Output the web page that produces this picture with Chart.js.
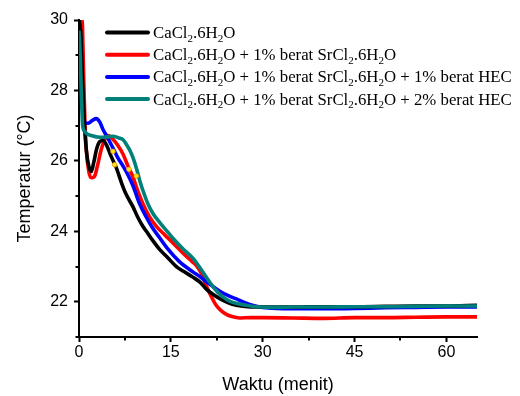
<!DOCTYPE html>
<html>
<head>
<meta charset="utf-8">
<script src="https://cdn.jsdelivr.net/npm/chart.js@4.4.1/dist/chart.umd.min.js"></script>
<style>
  html, body { margin: 0; padding: 0; background: #fff; }
  #temp { display: block; }
</style>
</head>
<body>
<canvas id="temp" width="520" height="396"></canvas>
<script>
// series labels, "_2" = subscript 2
var seriesLabels = [
    "CaCl_2.6H_2O",
    "CaCl_2.6H_2O + 1% berat SrCl_2.6H_2O",
    "CaCl_2.6H_2O + 1% berat SrCl_2.6H_2O + 1% berat HEC",
    "CaCl_2.6H_2O + 1% berat SrCl_2.6H_2O + 2% berat HEC"
];
var seriesColors = ["#000000", "#ff0000", "#0000ff", "#00807a"];

var xTicks = [0, 15, 30, 45, 60];
var yTicks = [22, 24, 26, 28, 30];

// waktu (menit) / temperatur (C)
var timeA = [0, 0.3, 0.6, 0.9, 1.2, 1.6, 2.0, 2.4, 2.9, 3.4, 3.9, 4.5, 5.2, 6.1, 7.0, 7.7, 8.8, 9.6, 10.4, 11.2, 12.0, 13.2, 14.5, 15.9, 17.2, 18.6, 19.8, 20.8, 21.8, 23.0, 24.3, 25.7, 27.5, 30, 35, 40, 45, 50, 55, 60, 65];
var tempA = [30.0, 29.6, 28.2, 27.0, 26.3, 25.85, 25.7, 25.95, 26.35, 26.55, 26.58, 26.45, 26.15, 25.8, 25.35, 25.05, 24.7, 24.4, 24.15, 23.95, 23.75, 23.48, 23.25, 23.0, 22.85, 22.7, 22.55, 22.36, 22.22, 22.09, 21.98, 21.9, 21.86, 21.85, 21.85, 21.86, 21.86, 21.87, 21.88, 21.88, 21.9];

var timeB = [0, 0.5, 0.75, 0.95, 1.2, 1.6, 2.0, 2.5, 3.0, 3.6, 4.2, 4.8, 5.5, 6.3, 7.2, 8.0, 8.8, 9.6, 10.4, 11.5, 12.6, 14.0, 15.3, 17.0, 18.4, 19.2, 20.0, 20.8, 21.6, 22.4, 23.2, 24.0, 25.0, 26.2, 28, 30, 35, 40, 45, 50, 55, 60, 65];
var tempB = [30.0, 30.0, 28.5, 27.2, 26.3, 25.7, 25.52, 25.55, 25.85, 26.3, 26.6, 26.72, 26.62, 26.45, 26.19, 25.85, 25.55, 25.15, 24.8, 24.42, 24.15, 23.9, 23.68, 23.38, 23.15, 23.02, 22.8, 22.45, 22.15, 21.9, 21.75, 21.65, 21.58, 21.54, 21.55, 21.55, 21.54, 21.53, 21.55, 21.55, 21.56, 21.57, 21.57];

var timeC = [0, 0.25, 0.5, 0.75, 1.0, 1.5, 2.2, 2.8, 3.4, 3.9, 4.7, 5.5, 6.3, 7.2, 8.0, 8.8, 9.9, 11.0, 12.0, 13.2, 14.5, 16.4, 18.6, 19.7, 20.8, 22.0, 23.0, 24.3, 25.7, 27.0, 28.3, 30, 35, 40, 45, 50, 55, 60, 65];
var tempC = [30.0, 29.5, 28.2, 27.3, 27.08, 27.07, 27.15, 27.2, 27.1, 26.9, 26.65, 26.38, 26.1, 25.85, 25.6, 25.3, 24.78, 24.4, 24.1, 23.81, 23.5, 23.14, 22.85, 22.72, 22.57, 22.42, 22.3, 22.18, 22.08, 21.98, 21.9, 21.84, 21.8, 21.8, 21.81, 21.83, 21.84, 21.85, 21.85];

var timeD = [0, 0.2, 0.4, 0.6, 0.9, 1.2, 2.0, 3.4, 4.5, 5.5, 6.5, 7.2, 7.7, 8.3, 8.8, 9.4, 9.9, 10.4, 11.3, 12.1, 13.2, 14.3, 15.3, 17.0, 18.6, 19.7, 21.3, 22.5, 23.5, 24.6, 25.8, 27.3, 29, 32, 35, 40, 45, 50, 55, 60, 65];
var tempD = [29.7, 29.0, 27.8, 27.0, 26.85, 26.78, 26.72, 26.67, 26.68, 26.7, 26.65, 26.6, 26.48, 26.3, 26.1, 25.78, 25.45, 25.18, 24.76, 24.5, 24.25, 24.02, 23.81, 23.5, 23.24, 22.98, 22.57, 22.3, 22.14, 22.02, 21.95, 21.9, 21.86, 21.84, 21.85, 21.85, 21.86, 21.86, 21.87, 21.88, 21.88];

// small yellow markers on the curves
var markTime = [5.55, 5.82, 8.16, 9.36];
var markTemp = [26.27, 25.89, 25.76, 25.57];

var toPoints = function (xs, ys) {
    var pts = [];
    for (var i = 0; i < xs.length; i++) {
        pts.push({ x: xs[i], y: ys[i] });
    }
    return pts;
};

var lineSet = function (idx, xs, ys, order) {
    return {
        label: seriesLabels[idx],
        data: toPoints(xs, ys),
        borderColor: seriesColors[idx],
        backgroundColor: seriesColors[idx],
        borderWidth: 3.6,
        pointRadius: 0,
        fill: false,
        cubicInterpolationMode: 'monotone',
        order: order
    };
};

// draws subscript text, "_x" marks subscript char
var drawRich = function (ctx, str, x, y, size) {
    var parts = str.split('_');
    ctx.textBaseline = 'alphabetic';
    ctx.textAlign = 'left';
    for (var i = 0; i < parts.length; i++) {
        var p = parts[i];
        if (i > 0) {
            ctx.font = Math.round(size * 0.68) + 'px "Liberation Serif", "Times New Roman", serif';
            ctx.fillText(p.charAt(0), x, y + size * 0.22);
            x += ctx.measureText(p.charAt(0)).width;
            p = p.substring(1);
        }
        ctx.font = size + 'px "Liberation Serif", "Times New Roman", serif';
        ctx.fillText(p, x, y);
        x += ctx.measureText(p).width;
    }
};

var legendPlugin = {
    id: 'innerLegend',
    afterDatasetsDraw: function (chart) {
        var ctx = chart.ctx;
        ctx.save();
        for (var i = 0; i < seriesLabels.length; i++) {
            var yy = 32.5 + i * 22.2;
            ctx.strokeStyle = seriesColors[i];
            ctx.lineWidth = 4;
            ctx.lineCap = 'round';
            ctx.beginPath();
            ctx.moveTo(107, yy);
            ctx.lineTo(148, yy);
            ctx.stroke();
            ctx.fillStyle = '#000';
            drawRich(ctx, seriesLabels[i], 153, yy + 5.5, 16.8);
        }
        ctx.restore();
    }
};

// minor ticks between the major ones
var minorTicks = {
    id: 'minorTicks',
    afterDraw: function (chart) {
        var ctx = chart.ctx;
        var xs = chart.scales.x, ys = chart.scales.y;
        ctx.save();
        ctx.strokeStyle = '#000';
        ctx.lineWidth = 2;
        ctx.beginPath();
        for (var i = 0; i < xTicks.length; i++) {
            var v = xTicks[i] + 7.5;
            if (v > xs.max) continue;
            var px = Math.round(xs.getPixelForValue(v));
            ctx.moveTo(px, xs.top);
            ctx.lineTo(px, xs.top + 3.5);
        }
        for (var j = 0; j < yTicks.length; j++) {
            var w = yTicks[j] - 1;
            if (w < ys.min) continue;
            var py = Math.round(ys.getPixelForValue(w));
            ctx.moveTo(ys.right, py);
            ctx.lineTo(ys.right - 3.5, py);
        }
        ctx.stroke();
        ctx.restore();
    }
};

var tickFont = { family: '"Liberation Sans", Arial, sans-serif', size: 16 };
var titleFont = { family: '"Liberation Sans", Arial, sans-serif', size: 18 };

var ctxl = document.getElementById('temp');
var myLineChart = new Chart(ctxl, {
    type: 'line',
    data: {
        datasets: [
            {
                label: 'marks',
                data: toPoints(markTime, markTemp),
                showLine: false,
                pointRadius: 2.3,
                pointBackgroundColor: '#ffe21a',
                pointBorderColor: '#f4a300',
                pointBorderWidth: 0.8,
                order: 0
            },
            lineSet(0, timeA, tempA, 2),
            lineSet(1, timeB, tempB, 4),
            lineSet(2, timeC, tempC, 3),
            lineSet(3, timeD, tempD, 1)
        ]
    },
    options: {
        responsive: false,
        animation: false,
        devicePixelRatio: 1,
        layout: { padding: { left: 0, right: 43, top: 20, bottom: 0 } },
        plugins: { legend: { display: false }, tooltip: { enabled: false } },
        scales: {
            x: {
                type: 'linear',
                min: 0,
                max: 65,
                afterFit: function (s) { s.height = 59; },
                ticks: {
                    stepSize: 15,
                    includeBounds: false,
                    color: '#000',
                    font: tickFont,
                    padding: 1,
                    maxRotation: 0
                },
                grid: { drawOnChartArea: false, drawTicks: true, tickLength: 5, tickColor: '#000', tickWidth: 2 },
                border: { display: true, color: '#000', width: 2 },
                title: { display: true, text: 'Waktu (menit)', color: '#000', font: titleFont, padding: { top: 0, bottom: 0 } }
            },
            y: {
                type: 'linear',
                min: 21,
                max: 30,
                afterFit: function (s) { s.width = 79; },
                ticks: {
                    stepSize: 2,
                    color: '#000',
                    font: tickFont,
                    padding: 6
                },
                afterBuildTicks: function (s) {
                    s.ticks = yTicks.map(function (v) { return { value: v }; });
                },
                grid: { drawOnChartArea: false, drawTicks: true, tickLength: 5, tickColor: '#000', tickWidth: 2 },
                border: { display: true, color: '#000', width: 2 },
                title: { display: true, text: 'Temperatur (°C)', color: '#000', font: titleFont, padding: { top: 14, bottom: 0 } }
            }
        }
    },
    plugins: [legendPlugin, minorTicks]
});
</script>
</body>
</html>
